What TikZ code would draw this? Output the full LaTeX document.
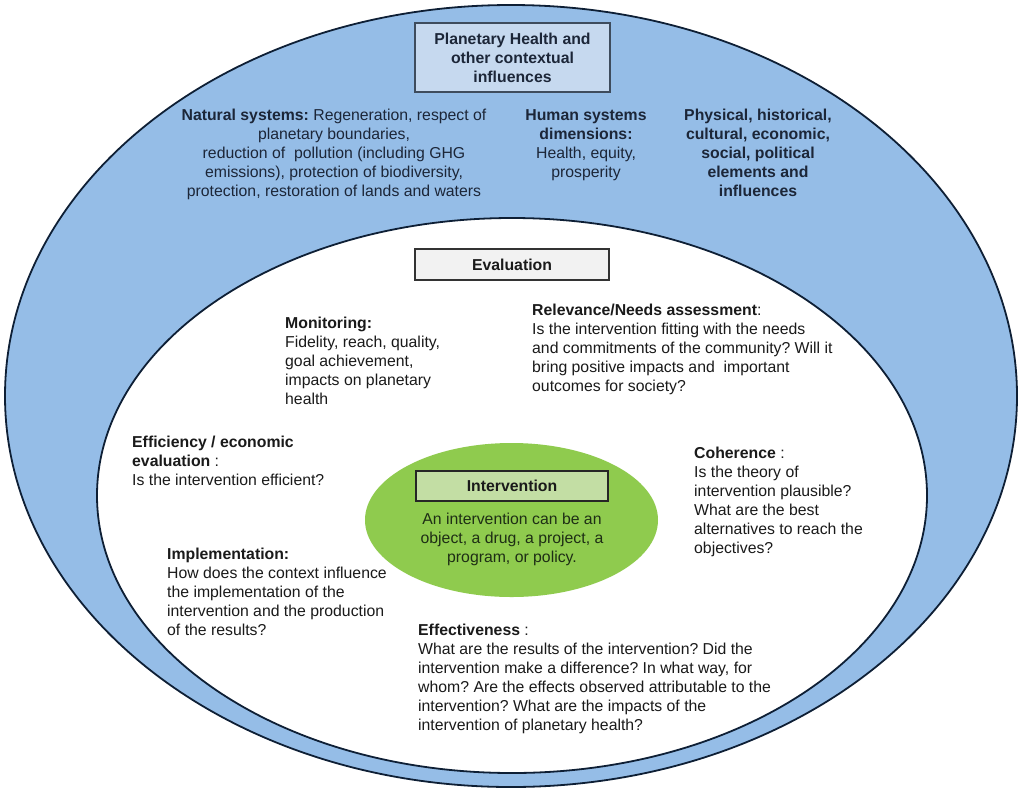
\documentclass[tikz,border=0pt]{standalone}
\usepackage{fontspec}
\setmainfont{Liberation Sans}
\usetikzlibrary{shapes.geometric}
\frenchspacing
\definecolor{blueback}{HTML}{95BDE7}
\definecolor{navy}{HTML}{0E1F35}
\definecolor{boxblue}{HTML}{C6D9EF}
\definecolor{boxgrey}{HTML}{F2F2F2}
\definecolor{greenell}{HTML}{8FCB4E}
\definecolor{boxgreen}{HTML}{C3DEA4}
\definecolor{txtdark}{HTML}{1A1A1A}
\definecolor{txtblue}{HTML}{1C2638}
\definecolor{txtgreen}{HTML}{1E2E15}
\newcommand{\fsz}{\fontsize{15.8}{19}\selectfont}
\begin{document}
\begin{tikzpicture}[x=1pt,y=-1pt,
  ring/.style={draw=navy, line width=1.8pt, ellipse, inner sep=0},
  labelbox/.style={draw=#1, line width=1.2pt, inner sep=0, font=\fsz\bfseries, align=center},
  txt/.style={font=\fsz\frenchspacing, text=txtdark, align=left, inner sep=0, anchor=north west},
  toptxt/.style={font=\fsz\frenchspacing, text=txtblue, align=center, inner sep=0, anchor=north}]
\useasboundingbox (0,0) rectangle (1024,793);
\node[ring, fill=blueback, minimum width=1012, minimum height=782] (outer) at (511,396) {};
\node[ring, fill=white, minimum width=830, minimum height=555] (inner) at (512,495.5) {};
\node[ellipse, fill=greenell, inner sep=0, minimum width=293, minimum height=154] (green) at (511.5,520) {};

\node[labelbox=navy!80, fill=boxblue, text=txtblue, minimum width=195, minimum height=69] (planet) at (512.5,57.5)
  {Planetary Health and\\other contextual\\influences};
\node[labelbox=black!80, fill=boxgrey, text=txtdark, minimum width=194, minimum height=31] (eval) at (512,264.5) {Evaluation};
\node[labelbox=black!85, fill=boxgreen, text=txtdark, minimum width=192, minimum height=30] (interv) at (512,486) {Intervention};
\node[toptxt, text=txtgreen] (intervtxt) at (512,510.8) {\strut An intervention can be an\\object, a drug, a project, a\\program, or policy.};

\node[toptxt] (natural) at (334,106.8) {\strut\textbf{Natural systems:} Regeneration, respect of\\planetary boundaries,\\reduction of\ \ pollution (including GHG\\emissions), protection of biodiversity,\\protection, restoration of lands and waters};
\node[toptxt] (human) at (586,106.8) {\strut\textbf{Human systems}\\\textbf{dimensions:}\\Health, equity,\\prosperity};
\node[toptxt, font=\fsz\bfseries] (physical) at (758,106.8) {\strut Physical, historical,\\cultural, economic,\\social, political\\elements and\\influences};

\node[txt] (monitoring) at (285,314.8) {\strut\textbf{Monitoring:}\\Fidelity, reach, quality,\\goal achievement,\\impacts on planetary\\health};
\node[txt] (relevance) at (532,301.8) {\strut\textbf{Relevance/Needs assessment}:\\Is the intervention fitting with the needs\\and commitments of the community? Will it\\bring positive impacts and\ \ important\\outcomes for society?};
\node[txt] (efficiency) at (132,434.4) {\strut\textbf{Efficiency / economic}\\\textbf{evaluation} :\\Is the intervention efficient?};
\node[txt] (coherence) at (694,444.8) {\strut\textbf{Coherence} :\\Is the theory of\\intervention plausible?\\What are the best\\alternatives to reach the\\objectives?};
\node[txt] (implementation) at (167,545.8) {\strut\textbf{Implementation:}\\How does the context influence\\the implementation of the\\intervention and the production\\of the results?};
\node[txt] (effectiveness) at (418,621.8) {\strut\textbf{Effectiveness} :\\What are the results of the intervention? Did the\\intervention make a difference? In what way, for\\whom? Are the effects observed attributable to the\\intervention? What are the impacts of the\\intervention of planetary health?};
\end{tikzpicture}
\end{document}
